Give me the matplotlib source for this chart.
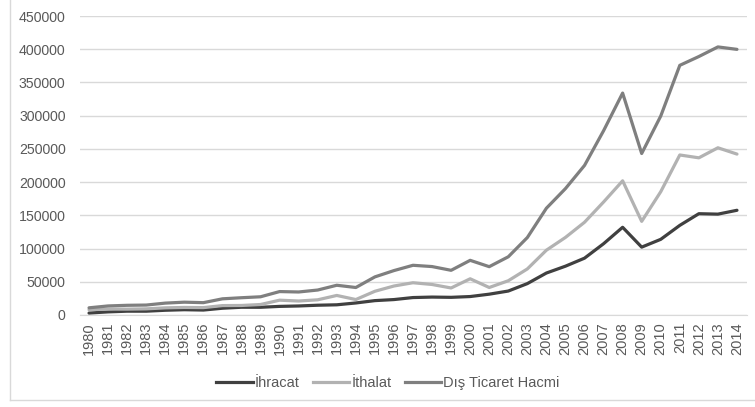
import matplotlib.pyplot as plt
from matplotlib.lines import Line2D

years = list(range(1980, 2015))
ihracat = [2910, 4703, 5746, 5728, 7134, 7958, 7457, 10190, 11662, 11625,
           12959, 13593, 14715, 15345, 18106, 21637, 23224, 26261, 26974, 26587,
           27775, 31334, 36059, 47253, 63167, 73476, 85535, 107272, 132027, 102143,
           113883, 134907, 152462, 151803, 157610]
ithalat = [7909, 8933, 8843, 9235, 10757, 11343, 11105, 14158, 14335, 15792,
           22302, 21047, 22871, 29428, 23270, 35709, 43627, 48559, 45921, 40671,
           54503, 41399, 51554, 69340, 97540, 116774, 139576, 170063, 201964, 140928,
           185544, 240842, 236545, 251661, 242177]
hacim = [a + b for a, b in zip(ihracat, ithalat)]

plt.rcParams['font.family'] = ['Liberation Sans', 'DejaVu Sans']
txt = '#595959'

fig = plt.figure(figsize=(7.55, 4.07), dpi=100)
ax = fig.add_axes([79.5 / 755, 92 / 407, 667 / 755, 299 / 407])

x = list(range(len(years)))
ax.plot(x, ihracat, color='#404040', lw=2.3, label='İhracat', solid_capstyle='round')
ax.plot(x, ithalat, color='#b2b2b2', lw=2.3, label='İthalat', solid_capstyle='round')
ax.plot(x, hacim, color='#7f7f7f', lw=2.3, label='Dış Ticaret Hacmi', solid_capstyle='round')

ax.set_xlim(-0.5, len(years) - 0.5)
ax.set_ylim(0, 450000)
ax.set_yticks(range(0, 450001, 50000))
ax.set_yticklabels([str(v) for v in range(0, 450001, 50000)], color=txt, fontsize=10.2)
ax.set_xticks(x)
ax.set_xticklabels([str(y) for y in years], rotation=90, color=txt, fontsize=10.5)
ax.grid(axis='y', color='#d9d9d9', lw=1)
ax.set_axisbelow(True)
for s in ['top', 'right', 'left']:
    ax.spines[s].set_visible(False)
ax.spines['bottom'].set_color('#d9d9d9')
ax.tick_params(axis='both', length=0)
ax.tick_params(axis='y', pad=10)
ax.tick_params(axis='x', pad=5)

handles = [Line2D([], [], color=c, lw=2.3) for c in ['#404040', '#b2b2b2', '#7f7f7f']]
fig.legend(handles, ['İhracat', 'İthalat', 'Dış Ticaret Hacmi'], loc='center',
           bbox_to_anchor=(388 / 755, 1 - 383 / 407), ncol=3, frameon=False,
           fontsize=10.5, labelcolor=txt, handlelength=2.5, handletextpad=0.15,
           columnspacing=0.9)

fig.add_artist(Line2D([10 / 755, 10 / 755], [1, 7 / 407], color='#d9d9d9', lw=1))
fig.add_artist(Line2D([10 / 755, 1], [7 / 407, 7 / 407], color='#d9d9d9', lw=1))

fig.savefig('out.png', dpi=100)
